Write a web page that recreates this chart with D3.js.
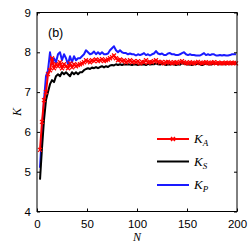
<!DOCTYPE html>
<html>
<head>
<meta charset="utf-8">
<script src="https://cdn.jsdelivr.net/npm/d3@7"></script>
<style>
  body { margin: 0; background: #fff; }
  svg { display: block; }
  .tick text { font-family: "Liberation Sans", Arial, sans-serif; font-size: 11.5px; }
</style>
</head>
<body>
<div id="vis"></div>
<script>
// frame
const FRAME_WIDTH = 249;
const FRAME_HEIGHT = 250;
const MARGINS = {left: 37, right: 12, top: 12.5, bottom: 38.5};
const VIS_WIDTH = FRAME_WIDTH - MARGINS.left - MARGINS.right;
const VIS_HEIGHT = FRAME_HEIGHT - MARGINS.top - MARGINS.bottom;

// data (every 2nd N)
const N_VALUES = d3.range(3, 200, 2);
const K_A = [5.55, 6.25, 6.8, 7.0, 7.45, 7.55, 7.85, 7.6, 7.7, 7.65, 7.75, 7.6, 7.7, 7.65, 7.6, 7.72, 7.62, 7.7, 7.65, 7.68,
  7.7, 7.72, 7.75, 7.8, 7.78, 7.75, 7.8, 7.78, 7.82, 7.78, 7.8, 7.83, 7.78, 7.8, 7.82, 7.85, 7.88, 7.92, 7.85, 7.8,
  7.82, 7.78, 7.8, 7.75, 7.78, 7.8, 7.75, 7.78, 7.75, 7.78, 7.72, 7.76, 7.75, 7.8, 7.74, 7.76, 7.75, 7.78, 7.8, 7.76,
  7.74, 7.76, 7.72, 7.75, 7.76, 7.74, 7.72, 7.75, 7.74, 7.73, 7.76, 7.78, 7.75, 7.73, 7.72, 7.75, 7.73, 7.72, 7.74, 7.76,
  7.73, 7.72, 7.74, 7.75, 7.73, 7.72, 7.74, 7.75, 7.72, 7.74, 7.72, 7.73, 7.72, 7.74, 7.73, 7.72, 7.74, 7.73, 7.72];
const K_S = [4.8, 5.6, 6.3, 6.8, 7.0, 7.2, 7.3, 7.25, 7.4, 7.45, 7.4, 7.5, 7.45, 7.5, 7.45, 7.4, 7.5, 7.45, 7.5, 7.45,
  7.5, 7.5, 7.55, 7.58, 7.6, 7.58, 7.62, 7.6, 7.63, 7.6, 7.63, 7.65, 7.62, 7.65, 7.63, 7.67, 7.68, 7.67, 7.7, 7.68,
  7.7, 7.68, 7.7, 7.69, 7.7, 7.69, 7.68, 7.7, 7.69, 7.68, 7.7, 7.69, 7.7, 7.68, 7.71, 7.69, 7.7, 7.7, 7.72, 7.7,
  7.69, 7.71, 7.7, 7.68, 7.7, 7.69, 7.7, 7.7, 7.68, 7.7, 7.69, 7.73, 7.71, 7.7, 7.69, 7.7, 7.68, 7.7, 7.7, 7.71,
  7.7, 7.68, 7.7, 7.71, 7.7, 7.69, 7.7, 7.72, 7.71, 7.7, 7.7, 7.71, 7.7, 7.7, 7.71, 7.7, 7.72, 7.71, 7.72];
const K_P = [5.1, 6.0, 6.8, 7.4, 7.55, 8.0, 7.7, 7.85, 7.75, 7.95, 8.0, 7.8, 7.95, 7.85, 7.7, 7.9, 7.75, 7.9, 7.8, 7.85,
  7.85, 7.9, 7.95, 8.05, 8.0, 7.95, 7.97, 8.02, 7.95, 8.0, 7.95, 8.0, 7.95, 7.95, 7.97, 8.05, 8.1, 8.15, 8.05, 8.0,
  8.05, 8.0, 7.98, 7.98, 7.95, 7.97, 7.95, 7.95, 7.92, 7.95, 7.93, 7.95, 7.98, 7.93, 7.95, 7.92, 7.95, 7.97, 8.03, 7.97,
  7.95, 7.97, 7.93, 7.93, 7.97, 7.98, 7.95, 7.95, 7.93, 7.93, 7.95, 7.98, 8.0, 7.95, 7.93, 7.95, 7.93, 7.93, 7.92, 7.92,
  7.92, 7.95, 7.98, 7.93, 7.95, 7.93, 7.95, 7.95, 7.92, 7.92, 7.93, 7.92, 7.93, 7.92, 7.92, 7.93, 7.95, 7.95, 7.95];
const X_TICKS = [0, 50, 100, 150, 200];
const Y_TICKS = [4, 5, 6, 7, 8, 9];

const SERIES = [
  {name: "A", values: K_A, color: "#ff0000", marker: true},
  {name: "S", values: K_S, color: "#000000", marker: false},
  {name: "P", values: K_P, color: "#1a1aff", marker: false}
];

const FRAME1 = d3.select("#vis")
                  .append("svg")
                    .attr("width", FRAME_WIDTH)
                    .attr("height", FRAME_HEIGHT);

const X_SCALE = d3.scaleLinear().domain([0, 200]).range([0, VIS_WIDTH]);
const Y_SCALE = d3.scaleLinear().domain([4, 9]).range([VIS_HEIGHT, 0]);

const G = FRAME1.append("g")
                .attr("transform", "translate(" + MARGINS.left + "," + MARGINS.top + ")");

const line = d3.line()
               .x((d, i) => X_SCALE(N_VALUES[i]))
               .y(d => Y_SCALE(d));

// blue first, then black, red with markers on top
[SERIES[2], SERIES[1], SERIES[0]].forEach(s => {
  G.append("path")
    .attr("d", line(s.values))
    .attr("fill", "none")
    .attr("stroke", s.color)
    .attr("stroke-width", 2)
    .attr("stroke-linejoin", "round");
  if (s.marker) {
    G.selectAll(".mk" + s.name)
      .data(s.values)
      .enter()
      .append("path")
        .attr("d", "M-2,-2L2,2M-2,2L2,-2")
        .attr("transform", (d, i) => "translate(" + X_SCALE(N_VALUES[i]) + "," + Y_SCALE(d) + ")")
        .attr("stroke", s.color)
        .attr("stroke-width", 1.2);
  }
});

// axes with inward ticks on all sides
G.append("g")
  .attr("transform", "translate(0," + VIS_HEIGHT + ")")
  .call(d3.axisBottom(X_SCALE).tickValues(X_TICKS).tickSizeInner(-3).tickSizeOuter(0).tickPadding(8))
  .call(g => g.select(".domain").remove());
G.append("g")
  .call(d3.axisTop(X_SCALE).tickValues(X_TICKS).tickSizeInner(-3).tickSizeOuter(0).tickFormat(""))
  .call(g => g.select(".domain").remove());
G.append("g")
  .call(d3.axisLeft(Y_SCALE).tickValues(Y_TICKS).tickSizeInner(-3).tickSizeOuter(0).tickPadding(6).tickFormat(d3.format("d")))
  .call(g => g.select(".domain").remove());
G.append("g")
  .attr("transform", "translate(" + VIS_WIDTH + ",0)")
  .call(d3.axisRight(Y_SCALE).tickValues(Y_TICKS).tickSizeInner(-3).tickSizeOuter(0).tickFormat(""))
  .call(g => g.select(".domain").remove());

G.append("rect")
  .attr("width", VIS_WIDTH)
  .attr("height", VIS_HEIGHT)
  .attr("fill", "none")
  .attr("stroke", "#000")
  .attr("stroke-width", 1);

// panel label
G.append("text")
  .attr("x", 11)
  .attr("y", 24)
  .attr("font-family", "Liberation Sans, Arial, sans-serif")
  .attr("font-size", 12.5)
  .text("(b)");

// axis titles
FRAME1.append("text")
  .attr("x", MARGINS.left + VIS_WIDTH / 2)
  .attr("y", 241)
  .attr("text-anchor", "middle")
  .attr("font-family", "Liberation Serif, Times New Roman, serif")
  .attr("font-style", "italic")
  .attr("font-size", 12)
  .text("N");

FRAME1.append("text")
  .attr("transform", "translate(21," + (MARGINS.top + VIS_HEIGHT / 2) + ") rotate(-90)")
  .attr("text-anchor", "middle")
  .attr("font-family", "Liberation Serif, Times New Roman, serif")
  .attr("font-style", "italic")
  .attr("font-size", 12)
  .text("K");

// legend
const LEG_Y = [139, 161.5, 185];
SERIES.forEach((s, i) => {
  const lg = FRAME1.append("g").attr("transform", "translate(157," + LEG_Y[i] + ")");
  lg.append("line")
    .attr("x1", 0).attr("x2", 32)
    .attr("stroke", s.color)
    .attr("stroke-width", 2);
  if (s.marker) {
    lg.append("path")
      .attr("d", "M14,-2L18,2M14,2L18,-2")
      .attr("stroke", s.color)
      .attr("stroke-width", 1.5);
  }
  const t = lg.append("text")
    .attr("x", 37)
    .attr("y", 4)
    .attr("font-family", "Liberation Serif, Times New Roman, serif")
    .attr("font-style", "italic")
    .attr("font-size", 13);
  t.append("tspan").text("K");
  t.append("tspan").attr("dy", 3).attr("font-size", 9).text(s.name);
});
</script>
</body>
</html>
